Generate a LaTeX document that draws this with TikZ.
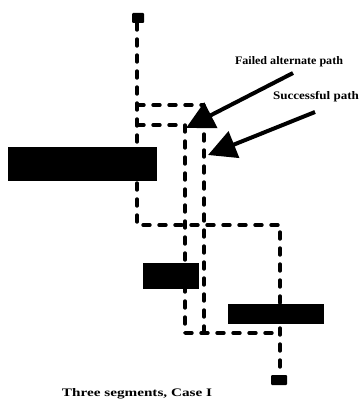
\documentclass[tikz,border=0pt]{standalone}
\usepackage{fontspec}
\usepackage{graphicx}
\setmainfont{Liberation Serif}
\usetikzlibrary{arrows.meta}

\begin{document}
\begin{tikzpicture}[x=1pt,y=-1pt,
  route/.style={line width=3.4pt,line cap=round,line join=round,
                dash pattern=on 7pt off 9pt},
  slab/.style={fill=black,draw=none,inner sep=0pt,outer sep=0pt},
  term/.style={fill=black,draw=none,inner sep=0pt,outer sep=0pt,rounded corners=1pt},
  pointer/.style={line width=4pt,-{Triangle[length=28pt,width=28pt]}},
  tag/.style={inner sep=0pt,font=\fontsize{11.5}{13}\selectfont\bfseries}
]
% page frame
\useasboundingbox (0,0) rectangle (363,409);

% end points
\node[term,minimum width=12pt,minimum height=10pt] (top) at (138,18) {};
\node[term,minimum width=16pt,minimum height=10pt] (bot) at (279,380) {};

% corners of the routes
\coordinate (lA) at (137,105);
\coordinate (lB) at (137,125);
\coordinate (lC) at (137,225);
\coordinate (rC) at (280,225);
\coordinate (oA) at (204,105);
\coordinate (oD) at (204,333);
\coordinate (iA) at (185,125);
\coordinate (iD) at (185,333);
\coordinate (rD) at (280,333);

% main route around the blocks
\draw[route] (top.south -| lC) -- (lC) -- (rC) -- (rC |- bot.north);
% failed alternate route
\draw[route] (lA) -- (oA) -- (oD);
% successful route
\draw[route] (lB) -- (iA) -- (iD) -- (rD);

% blocking segments
\node[slab,minimum width=149pt,minimum height=34pt] (b1) at (82.5,164) {};
\node[slab,minimum width=56pt,minimum height=26pt] (b2) at (171,276) {};
\node[slab,minimum width=96pt,minimum height=20pt] (b3) at (276,314) {};

% labels
\node[tag] (fail) at (289,62) {\resizebox{108pt}{\height}{Failed alternate path}};
\node[tag] (succ) at (316,97) {\resizebox{86pt}{\height}{Successful path}};
\node[tag] (cap) at (137,394) {\resizebox{150pt}{\height}{Three segments, Case I}};

% pointers
\coordinate (ftail) at (293,73);
\coordinate (ftip) at (186,128);
\coordinate (stail) at (315,112);
\coordinate (stip) at (208,155);
\draw[pointer] (ftail) -- (ftip);
\draw[pointer] (stail) -- (stip);
\end{tikzpicture}
\end{document}
